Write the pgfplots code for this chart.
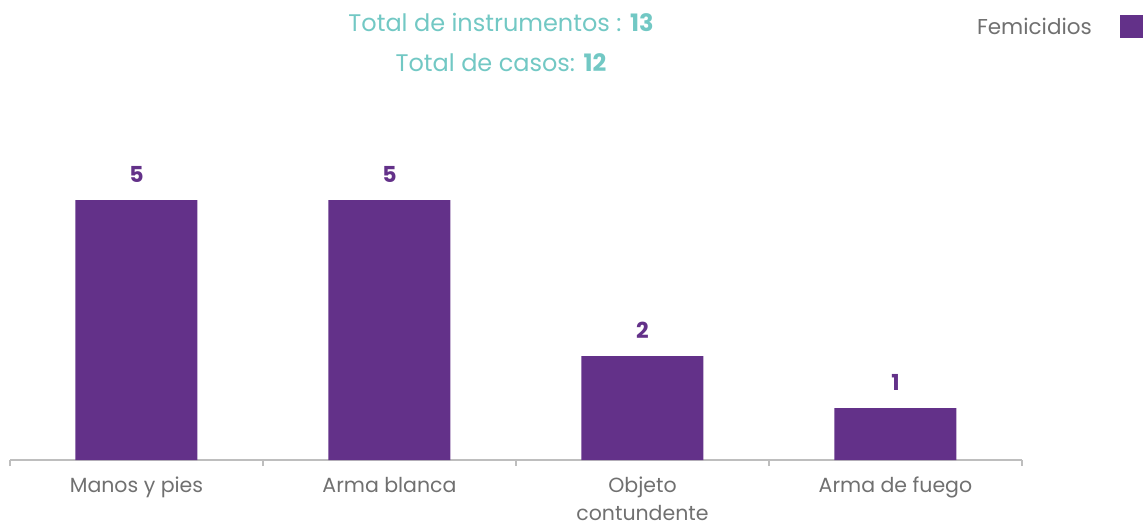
\documentclass[border=0pt]{standalone}
\usepackage{fontspec}
\setmainfont{Poppins}
\usepackage{pgfplots}
\pgfplotsset{compat=1.18}
\definecolor{barpurple}{RGB}{99,49,137}
\definecolor{teal}{RGB}{114,200,196}
\definecolor{labgray}{RGB}{112,112,112}
\definecolor{axgray}{RGB}{190,190,190}

\begin{document}
\begin{tikzpicture}[x=1pt,y=1pt]
\useasboundingbox (0,0) rectangle (1145,-532);
\begin{axis}[
  at={(10pt,-460pt)}, anchor=south west,
  scale only axis,
  width=1012pt, height=460pt,
  xmin=-0.5, xmax=3.5, ymin=0, ymax=8.846,
  axis x line*=bottom, axis y line=none,
  axis line style={axgray, line width=1.2pt},
  xtick={-0.5,0.5,1.5,2.5,3.5},
  xticklabels={},
  xtick style={axgray, line width=1.2pt},
  major tick length=6pt, tick align=inside,
  extra x ticks={0,1,2,3},
  extra x tick labels={Manos y pies, Arma blanca, {Objeto\\contundente}, Arma de fuego},
  extra x tick style={major tick length=0pt,
    tick label style={font=\fontsize{20.5}{28}\selectfont, text=labgray, align=center, yshift=-16pt, inner sep=1pt}},
  ytick=\empty,
  ybar, bar width=122pt,
  nodes near coords={\bfseries\pgfmathprintnumber[assume math mode=true]{\pgfplotspointmeta}},
  every node near coord/.append style={font=\fontsize{22}{24}\selectfont, text=barpurple, yshift=14pt},
]
\addplot[fill=barpurple, draw=none] coordinates {(0,5) (1,5) (2,2) (3,1)};
\end{axis}
\node[text=teal, font=\fontsize{24}{28}\selectfont] at (501,-22) {Total de instrumentos : \textbf{13}};
\node[text=teal, font=\fontsize{24}{28}\selectfont] at (501,-63) {Total de casos: \textbf{12}};
\node[text=labgray, font=\fontsize{21.5}{24}\selectfont, anchor=east, inner sep=0pt] at (1092,-26) {Femicidios};
\fill[barpurple] (1120,-15) rectangle (1143,-38);
\end{tikzpicture}
\end{document}
